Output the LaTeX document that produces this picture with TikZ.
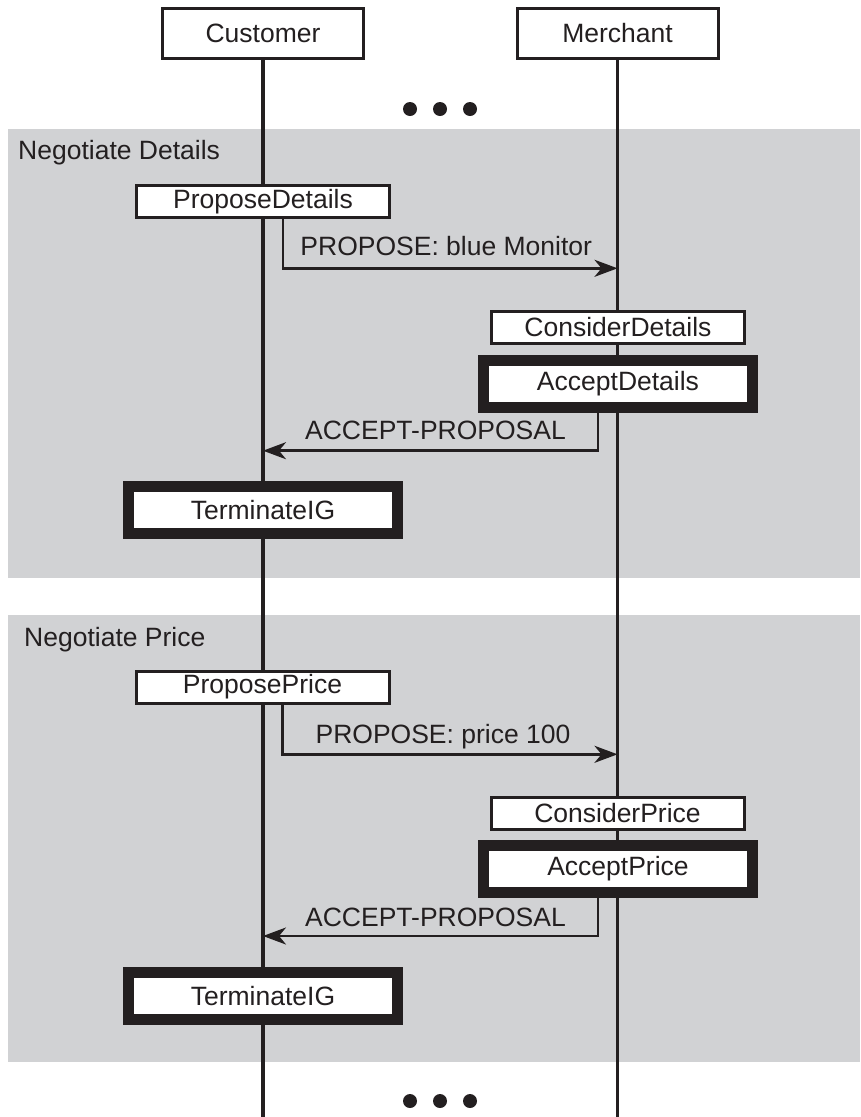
\documentclass[tikz,border=0pt]{standalone}
\usepackage{fontspec}
\setmainfont{Liberation Sans}
\usetikzlibrary{arrows.meta,backgrounds,calc}
\definecolor{ink}{RGB}{35,31,32}
\definecolor{phase}{RGB}{209,210,212}
\tikzset{
  lbl/.style={font=\fontsize{26.5}{30}\selectfont, text=ink},
  actor/.style={lbl, draw=ink, line width=3pt, fill=white,
    minimum width=201pt, minimum height=50pt, inner sep=0pt},
  act/.style={lbl, draw=ink, line width=3pt, fill=white,
    minimum width=253pt, minimum height=32pt, inner sep=0pt},
  final/.style={lbl, draw=ink, line width=11pt, fill=white,
    minimum width=269pt, minimum height=47pt, inner sep=0pt},
  lifeline/.style={draw=ink, line width=3.4pt},
  msg/.style={draw=ink, line width=2.8pt,
    -{Stealth[length=23pt,width=17pt,inset=7pt]}},
  phasebox/.style={fill=phase, draw=none, inner sep=0pt, outer sep=0pt, anchor=north west},
  dot/.style={circle, fill=ink, inner sep=0pt, minimum size=14pt},
  phaselabel/.style={lbl, anchor=base west, inner sep=0pt}
}
\begin{document}
\begin{tikzpicture}[x=1pt,y=-1pt]
\useasboundingbox (0,0) rectangle (860,1117);

% roles
\node[actor] (cust) at (263,33.5) {Customer};
\node[actor] (merc) at (617.5,33.5) {Merchant};
\coordinate (bottom) at (0,1117);

% phase backgrounds, then the lifelines over them
\begin{pgfonlayer}{background}
  \node[phasebox, minimum width=852pt, minimum height=449pt] (ph1) at (8,128.5) {};
  \node[phasebox, minimum width=852pt, minimum height=447pt] (ph2) at (8,615) {};
  \draw[lifeline] (cust.south) -- (cust.south |- bottom);
  \draw[lifeline] (merc.south) -- (merc.south |- bottom);
\end{pgfonlayer}
\node[phaselabel] (ph1l) at (18,159.3) {Negotiate Details};
\node[phaselabel] (ph2l) at (24,646.7) {Negotiate Price};

% ellipsis marks
\node[dot] (d1) at (410,109) {};
\node[dot] (d2) at (440,109) {};
\node[dot] (d3) at (470,109) {};
\node[dot] (d4) at (410,1101) {};
\node[dot] (d5) at (440,1101) {};
\node[dot] (d6) at (470,1101) {};

% first interaction group
\node[act] (pd) at (263,201.5) {ProposeDetails};
\node[act] (cd) at (618,327.5) {ConsiderDetails};
\node[final] (ad) at (618,383.5) {AcceptDetails};
\node[final] (t1) at (263,510) {TerminateIG};
\coordinate (m1) at (617.5,268.3);
\coordinate (c1) at (263,450.7);

% second interaction group
\node[act] (pp) at (262.5,687) {ProposePrice};
\node[act] (cp) at (617.5,813.5) {ConsiderPrice};
\node[final] (ap) at (618,869) {AcceptPrice};
\node[final] (t2) at (263,996) {TerminateIG};
\coordinate (m2) at (617.5,754.3);
\coordinate (c2) at (263,936);

% messages
\draw[msg] ([xshift=20pt]pd.south) |- node[lbl, pos=0.75, anchor=base, yshift=13pt, xshift=-4pt] {PROPOSE: blue Monitor} (m1);
\draw[msg] ([xshift=-20pt]ad.south) |- node[lbl, pos=0.75, anchor=base, yshift=11.5pt, xshift=5pt] {ACCEPT-PROPOSAL} (c1);
\draw[msg] ([xshift=20pt]pp.south) |- node[lbl, pos=0.75, anchor=base, yshift=11pt, xshift=-7pt] {PROPOSE: price 100} (m2);
\draw[msg] ([xshift=-20pt]ap.south) |- node[lbl, pos=0.75, anchor=base, yshift=10pt, xshift=5pt] {ACCEPT-PROPOSAL} (c2);
\end{tikzpicture}
\end{document}
